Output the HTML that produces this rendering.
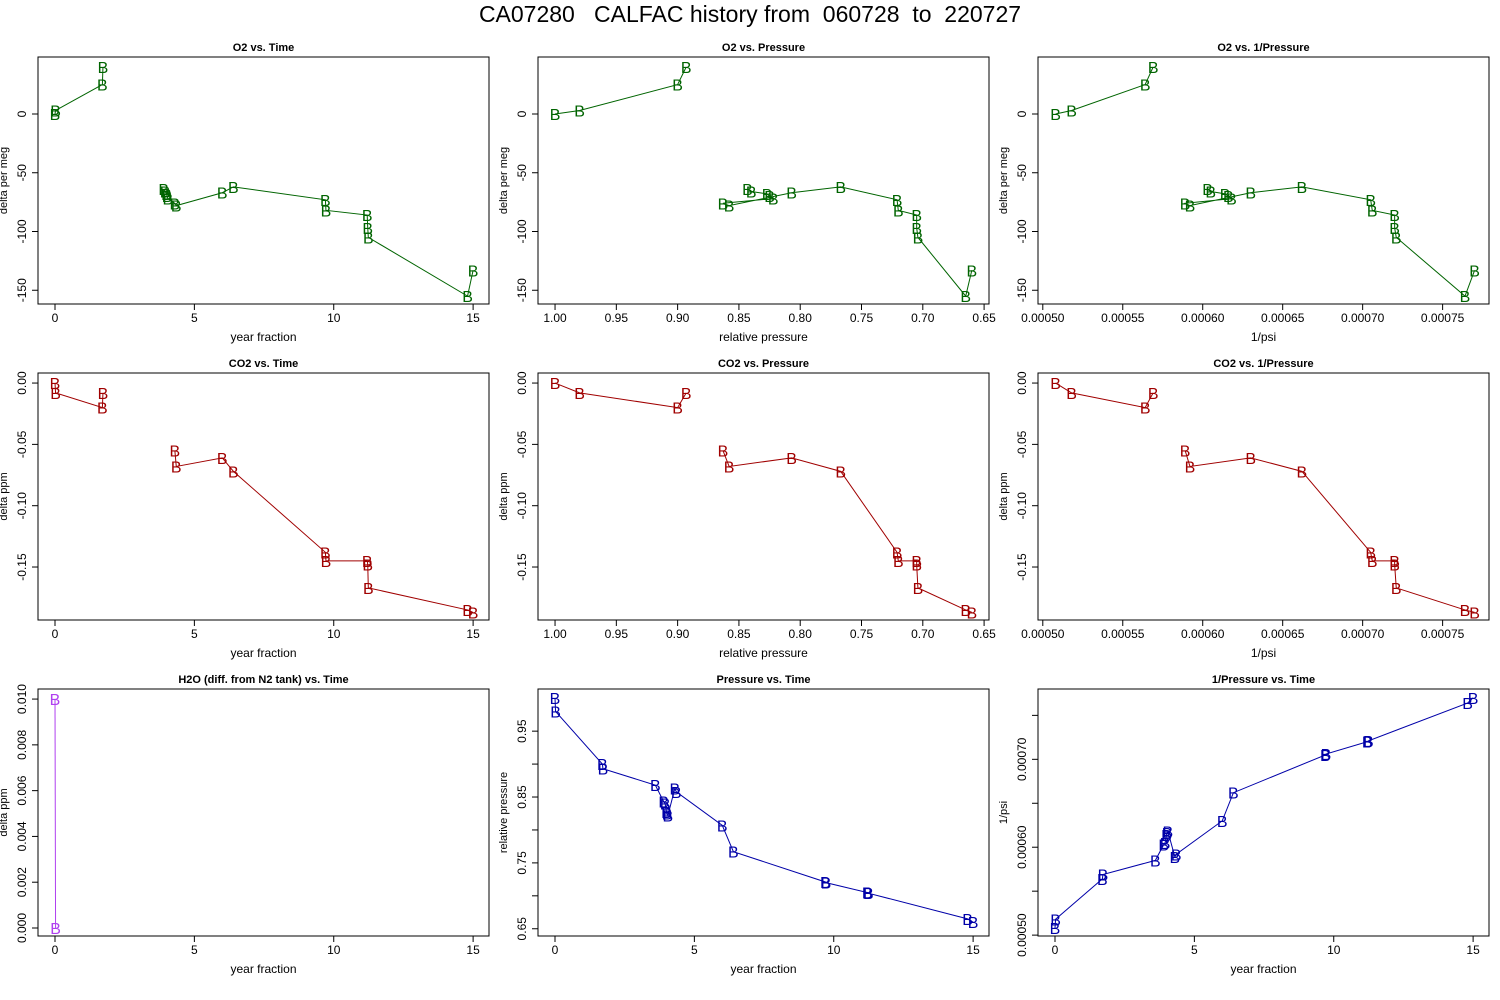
<!DOCTYPE html>
<html><head><meta charset="utf-8"><style>
body{margin:0;background:#fff;}
svg{display:block;font-family:"Liberation Sans",sans-serif;}
</style></head><body>
<svg id="chart" width="1500" height="1000" viewBox="0 0 1500 1000">
<text x="750" y="22" text-anchor="middle" font-size="23" xml:space="preserve" style="white-space:pre">CA07280   CALFAC history from  060728  to  220727</text>
</svg>
<script>
const times = [0, 0.02, 1.7, 1.72, 3.6, 3.9, 3.95, 4.0, 4.02, 4.05, 4.3, 4.35, 6.0, 6.4, 9.7, 9.72, 11.2, 11.22, 11.24, 14.8, 15.0];
const pressure = [1.0, 0.98, 0.9, 0.893, 0.868, 0.843, 0.84, 0.827, 0.825, 0.822, 0.863, 0.858, 0.807, 0.767, 0.721, 0.72, 0.705, 0.705, 0.704, 0.665, 0.66];
const invPressure = [0.000508, 0.000518, 0.000564, 0.000569, 0.000585, 0.000603, 0.000605, 0.000614, 0.000616, 0.000618, 0.000589, 0.000592, 0.000630, 0.000662, 0.000705, 0.000706, 0.000720, 0.000720, 0.000721, 0.000764, 0.000770];
const o2 = [0, 3, 25, 40, NaN, -64, -66, -68, -70, -72, -76, -78, -67, -62, -73, -82, -86, -97, -105, -155, -133];
const co2 = [0, -0.008, -0.02, -0.008, NaN, NaN, NaN, NaN, NaN, NaN, -0.055, -0.068, -0.061, -0.072, -0.138, -0.145, -0.145, -0.148, -0.167, -0.185, -0.187];
const h2o = [0.01, 0, NaN, NaN, NaN, NaN, NaN, NaN, NaN, NaN, NaN, NaN, NaN, NaN, NaN, NaN, NaN, NaN, NaN, NaN, NaN];
const timeTicks = [0, 5, 10, 15];
const timeTickLabels = ["0", "5", "10", "15"];
const pressureTicks = [1.0, 0.95, 0.9, 0.85, 0.8, 0.75, 0.7, 0.65];
const pressureTickLabels = ["1.00", "0.95", "0.90", "0.85", "0.80", "0.75", "0.70", "0.65"];
const invTicks = [0.0005, 0.00055, 0.0006, 0.00065, 0.0007, 0.00075];
const invTickLabels = ["0.00050", "0.00055", "0.00060", "0.00065", "0.00070", "0.00075"];
const o2Ticks = [0, -50, -100, -150];
const o2TickLabels = ["0", "-50", "-100", "-150"];
const co2Ticks = [0, -0.05, -0.1, -0.15];
const co2TickLabels = ["0.00", "-0.05", "-0.10", "-0.15"];
const h2oTicks = [0, 0.002, 0.004, 0.006, 0.008, 0.01];
const h2oTickLabels = ["0.000", "0.002", "0.004", "0.006", "0.008", "0.010"];
const pYTicks = [0.65, 0.7, 0.75, 0.8, 0.85, 0.9, 0.95];
const pYTickLabels = ["0.65", "", "0.75", "", "0.85", "", "0.95"];
const invYTicks = [0.0005, 0.00055, 0.0006, 0.00065, 0.0007, 0.00075];
const invYTickLabels = ["0.00050", "", "0.00060", "", "0.00070", ""];

const svg = document.getElementById('chart');
const NS = 'http://www.w3.org/2000/svg';
function mk(tag, attrs, parent){const e=document.createElementNS(NS,tag);for(const k in attrs)e.setAttribute(k,attrs[k]);(parent||svg).appendChild(e);return e;}

const colX=[38,538,1038], rowY=[57,373,689], W=451, H=247;
const TR=[-0.61,15.57], PR=[1.0139,0.646], IR=[0.000497,0.000779];

function panel(key,c,r,title,xlab,ylab,xs,ys,xr,yr,xt,xtl,yt,ytl,color){
  const L=colX[c], T=rowY[r];
  const g=mk('g',{});
  
  
  const sx=v=>L+(v-xr[0])/(xr[1]-xr[0])*W;
  const sy=v=>T+H-(v-yr[0])/(yr[1]-yr[0])*H;
  const box=mk('rect',{x:L,y:T,width:W,height:H,fill:'none',stroke:'#000','stroke-width':1},g);
  
  
  const tt=mk('text',{x:L+W/2,y:T-6,'text-anchor':'middle','font-size':11,'font-weight':'bold'},g);
  tt.textContent=title;
  
  
  const xl=mk('text',{x:L+W/2,y:T+H+37,'text-anchor':'middle','font-size':12},g);
  xl.textContent=xlab;
  
  
  const yx=L-31, yy=T+H/2;
  const yl=mk('text',{x:yx,y:yy,'text-anchor':'middle','font-size':11,transform:`rotate(-90 ${yx} ${yy})`},g);
  yl.textContent=ylab;
  
  
  xt.forEach((v,i)=>{const x=sx(v);
    mk('line',{x1:x,x2:x,y1:T+H,y2:T+H+6,stroke:'#000'},g);
    const t=mk('text',{x:x,y:T+H+18,'text-anchor':'middle','font-size':12},g);t.textContent=xtl[i];
    
    });
  yt.forEach((v,i)=>{const y=sy(v);
    mk('line',{x1:L-6,x2:L,y1:y,y2:y,stroke:'#000'},g);
    if(ytl[i]){const tx=L-12;const t=mk('text',{x:tx,y:y,'text-anchor':'middle','font-size':12,transform:`rotate(-90 ${tx} ${y})`},g);t.textContent=ytl[i];
    
    }});
  let seg=[];const segs=[];
  xs.forEach((xv,i)=>{const yv=ys[i];if(isNaN(xv)||isNaN(yv)){if(seg.length)segs.push(seg);seg=[];}else seg.push([sx(xv),sy(yv)]);});
  if(seg.length)segs.push(seg);
  segs.forEach(s=>{if(s.length>1){const p=mk('polyline',{points:s.map(q=>q.join(',')).join(' '),fill:'none',stroke:color,'stroke-width':1},g);
    
    }});
  xs.forEach((xv,i)=>{const yv=ys[i];if(isNaN(xv)||isNaN(yv))return;
    const m=mk('text',{x:sx(xv),y:sy(yv)+6,'text-anchor':'middle','font-size':16,fill:color},g);m.textContent='B';
    
    });
}
const G='#006400', R='#a00000', B='#0000a8', P='#b040f0';
const O2R=[-161.7,48.5], CR=[-0.1932,0.0082], HR=[-0.00035,0.01044], PY=[0.639,1.014], IY=[0.000499,0.00078];
panel('o2-vs-time',0,0,'O2 vs. Time','year fraction','delta per meg',times,o2,TR,O2R,timeTicks,timeTickLabels,o2Ticks,o2TickLabels,G);
panel('o2-vs-pressure',1,0,'O2 vs. Pressure','relative pressure','delta per meg',pressure,o2,PR,O2R,pressureTicks,pressureTickLabels,o2Ticks,o2TickLabels,G);
panel('o2-vs-inv-pressure',2,0,'O2 vs. 1/Pressure','1/psi','delta per meg',invPressure,o2,IR,O2R,invTicks,invTickLabels,o2Ticks,o2TickLabels,G);
panel('co2-vs-time',0,1,'CO2 vs. Time','year fraction','delta ppm',times,co2,TR,CR,timeTicks,timeTickLabels,co2Ticks,co2TickLabels,R);
panel('co2-vs-pressure',1,1,'CO2 vs. Pressure','relative pressure','delta ppm',pressure,co2,PR,CR,pressureTicks,pressureTickLabels,co2Ticks,co2TickLabels,R);
panel('co2-vs-inv-pressure',2,1,'CO2 vs. 1/Pressure','1/psi','delta ppm',invPressure,co2,IR,CR,invTicks,invTickLabels,co2Ticks,co2TickLabels,R);
panel('h2o-vs-time',0,2,'H2O (diff. from N2 tank) vs. Time','year fraction','delta ppm',times,h2o,TR,HR,timeTicks,timeTickLabels,h2oTicks,h2oTickLabels,P);
panel('pressure-vs-time',1,2,'Pressure vs. Time','year fraction','relative pressure',times,pressure,TR,PY,timeTicks,timeTickLabels,pYTicks,pYTickLabels,B);
panel('inv-pressure-vs-time',2,2,'1/Pressure vs. Time','year fraction','1/psi',times,invPressure,TR,IY,timeTicks,timeTickLabels,invYTicks,invYTickLabels,B);
</script>
</body></html>
